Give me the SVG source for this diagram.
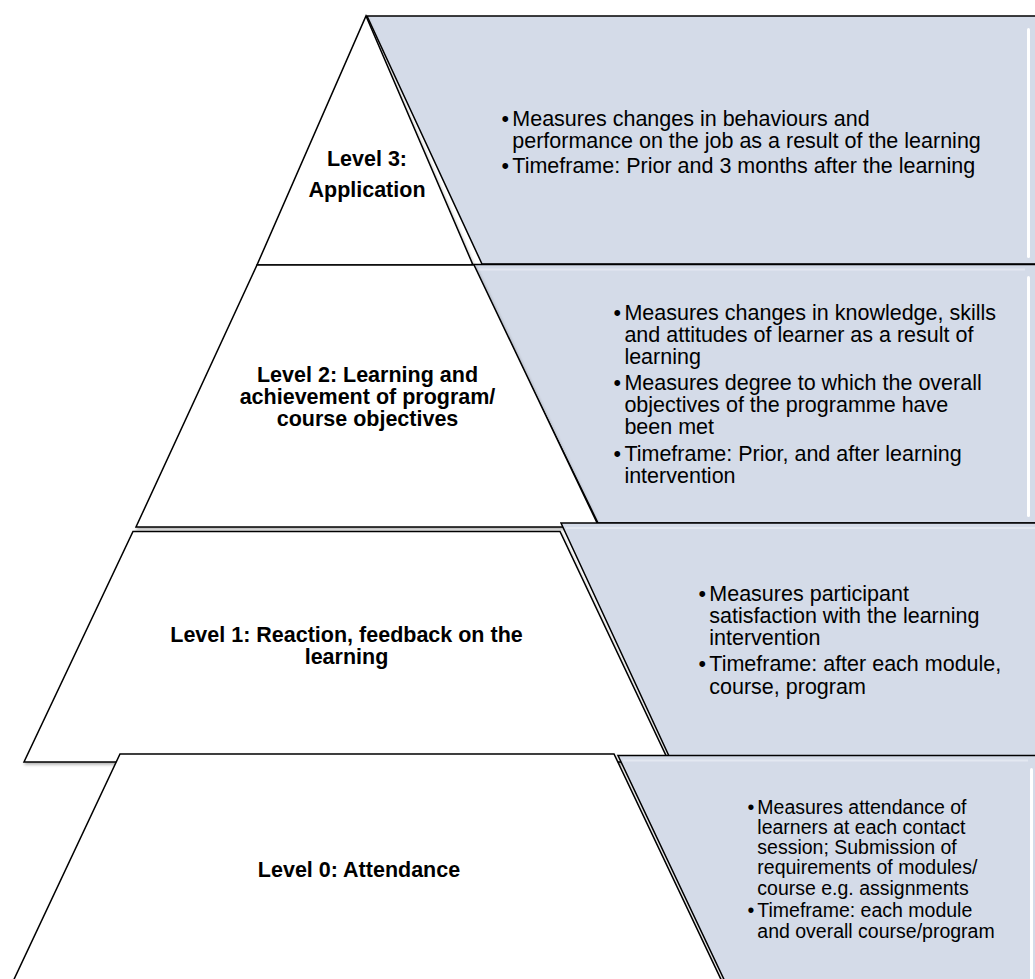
<svg xmlns="http://www.w3.org/2000/svg" width="1035" height="979" viewBox="0 0 1035 979">
<defs>
<filter id="sh" x="-10%" y="-10%" width="120%" height="120%">
<feDropShadow dx="1" dy="2" stdDeviation="1.5" flood-color="#000" flood-opacity="0.3"/>
</filter>
<style>
.lvl{fill:#fff;stroke:#000;stroke-width:1.5;stroke-linejoin:miter;filter:url(#sh)}
.pnl{fill:#D4DBE8;stroke:#000;stroke-width:1.5;stroke-linejoin:miter}
.hl{fill:#fff}
.bev{stroke:#E3E8F1;stroke-width:2}
.lbl{font-family:"Liberation Sans",Arial,sans-serif;font-weight:bold;font-size:21.5px;text-anchor:middle;fill:#000}
.txt{font-family:"Liberation Sans",Arial,sans-serif;font-size:21.5px;fill:#000}
.t0{font-size:19.5px}
</style>
</defs>
<rect width="1035" height="979" fill="#fff"/>

<g id="panel3">
<polygon class="pnl" points="367,16 1045,16 1045,264 482,264"/>
<rect class="hl" x="1027" y="28" width="3" height="230" rx="1.5"/>
<text class="txt"><tspan x="501.5" y="126">•</tspan><tspan x="512.3" y="126">Measures changes in behaviours and</tspan><tspan x="512.3" y="148.3">performance on the job as a result of the learning</tspan><tspan x="501.5" y="173.3">•</tspan><tspan x="512.3" y="173.3">Timeframe: Prior and 3 months after the learning</tspan></text>
</g>
<g id="level3">
<polygon class="lvl" points="366,16 473,265 257,265"/>
<text class="lbl"><tspan x="367" y="165.7">Level 3:</tspan><tspan x="367" y="196.7">Application</tspan></text>
</g>

<g id="panel2">
<polygon class="pnl" points="472,264.5 1045,264.5 1045,523 598,523"/>
<line class="bev" x1="478" y1="269.5" x2="1025" y2="269.5"/>
<rect class="hl" x="1027" y="276" width="3" height="241" rx="1.5"/>
<text class="txt"><tspan x="613.6" y="320">•</tspan><tspan x="624.4" y="320">Measures changes in knowledge, skills</tspan><tspan x="624.4" y="342">and attitudes of learner as a result of</tspan><tspan x="624.4" y="364">learning</tspan><tspan x="613.6" y="389.5">•</tspan><tspan x="624.4" y="389.5">Measures degree to which the overall</tspan><tspan x="624.4" y="411.5">objectives of the programme have</tspan><tspan x="624.4" y="433.5">been met</tspan><tspan x="613.6" y="460.5">•</tspan><tspan x="624.4" y="460.5">Timeframe: Prior, and after learning</tspan><tspan x="624.4" y="482.5">intervention</tspan></text>
</g>
<g id="level2">
<polygon class="lvl" points="257,265 474,265 599,527 136,527"/>
<text class="lbl"><tspan x="367.5" y="381.5">Level 2: Learning and</tspan><tspan x="367.5" y="403.5">achievement of program/</tspan><tspan x="367.5" y="425.5">course objectives</tspan></text>
</g>

<g id="panel1">
<polygon class="pnl" points="561,523 1045,523 1045,756 669,756"/>
<line class="bev" x1="566" y1="528" x2="1035" y2="528"/>
<text class="txt"><tspan x="698.5" y="600.5">•</tspan><tspan x="709.3" y="600.5">Measures participant</tspan><tspan x="709.3" y="622.7">satisfaction with the learning</tspan><tspan x="709.3" y="645">intervention</tspan><tspan x="698.5" y="671.2">•</tspan><tspan x="709.3" y="671.2">Timeframe: after each module,</tspan><tspan x="709.3" y="693.6">course, program</tspan></text>
</g>
<g id="level1">
<polygon class="lvl" points="133,531.5 560,531.5 669,762 24,762"/>
<text class="lbl"><tspan x="346.5" y="641.5">Level 1: Reaction, feedback on the</tspan><tspan x="346.5" y="663.5">learning</tspan></text>
</g>

<g id="panel0">
<polygon class="pnl" points="618,755.5 1045,755.5 1045,990 729,990"/>
<line class="bev" x1="623" y1="760.5" x2="1028" y2="760.5"/>
<rect class="hl" x="1030" y="768" width="3" height="215" rx="1.5"/>
<text class="txt t0"><tspan x="747.5" y="813.5">•</tspan><tspan x="757.3" y="813.5">Measures attendance of</tspan><tspan x="757.3" y="833.8">learners at each contact</tspan><tspan x="757.3" y="854.1">session; Submission of</tspan><tspan x="757.3" y="874.4">requirements of modules/</tspan><tspan x="757.3" y="894.7">course e.g. assignments</tspan><tspan x="747.5" y="916.8">•</tspan><tspan x="757.3" y="916.8">Timeframe: each module</tspan><tspan x="757.3" y="937.8">and overall course/program</tspan></text>
</g>
<g id="level0">
<polygon class="lvl" points="120,754 614,754 726,990 9,990"/>
<text class="lbl"><tspan x="359" y="877">Level 0: Attendance</tspan></text>
</g>

<g id="connectors"></g>
</svg>
